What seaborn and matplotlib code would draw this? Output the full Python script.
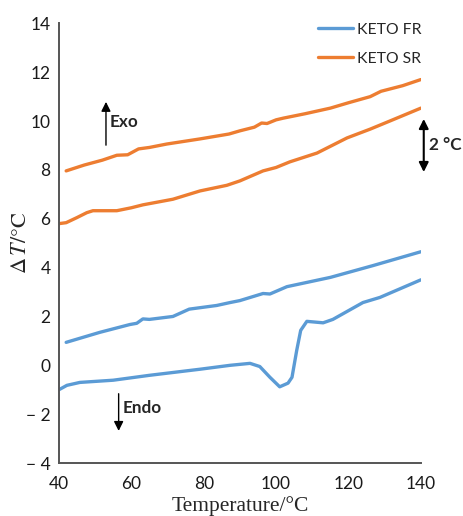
import matplotlib
matplotlib.use("Agg")
import matplotlib.pyplot as plt
import seaborn as sns
import pandas as pd

# ---- data ----
fr1_t = [42, 51.3, 59.6, 61.5, 63.2, 65, 71.5, 76, 83.6, 87.3, 90, 96.4, 98.3, 103, 115, 126.7, 140]
fr1_v = [0.94, 1.35, 1.67, 1.72, 1.9, 1.88, 2.0, 2.3, 2.45, 2.57, 2.65, 2.94, 2.92, 3.22, 3.6, 4.08, 4.65]
fr2_t = [40, 42.2, 45.8, 55, 65, 79, 87.3, 92.8, 95.5, 98.3, 101, 103.3, 104.4, 105.7, 106.8, 108.5, 113, 115.7, 124, 128.7, 140]
fr2_v = [-1.0, -0.82, -0.7, -0.61, -0.41, -0.16, 0.0, 0.08, -0.05, -0.49, -0.88, -0.73, -0.49, 0.61, 1.43, 1.8, 1.74, 1.88, 2.57, 2.78, 3.5]
sr1_t = [42, 47, 52, 56, 59, 62, 65, 69.8, 79, 87, 90, 94, 96, 97.5, 100, 102, 108, 115, 120, 126, 129, 135, 140]
sr1_v = [7.96, 8.2, 8.4, 8.6, 8.62, 8.86, 8.92, 9.06, 9.27, 9.47, 9.6, 9.75, 9.92, 9.9, 10.05, 10.12, 10.3, 10.53, 10.75, 11.0, 11.22, 11.45, 11.7]
sr2_t = [40, 42, 45, 47.7, 49.4, 56, 60, 63.2, 71.5, 79, 86.4, 90, 96.4, 100, 103.8, 111.3, 119.6, 126, 131.4, 140]
sr2_v = [5.8, 5.84, 6.05, 6.25, 6.33, 6.33, 6.45, 6.57, 6.8, 7.14, 7.37, 7.55, 7.96, 8.1, 8.33, 8.69, 9.31, 9.67, 10.0, 10.53]

series_names = ["KETO FR", "KETO SR"]
colors = ["#5B9BD5", "#ED7D31"]
x_ticks = [40, 60, 80, 100, 120, 140]
y_ticks = [-4, -2, 0, 2, 4, 6, 8, 10, 12, 14]
y_tick_labels = ["\u2212 4", "\u2212 2", "0", "2", "4", "6", "8", "10", "12", "14"]

rows = []
for name, run, ts, vs in [("KETO FR", 1, fr1_t, fr1_v), ("KETO FR", 2, fr2_t, fr2_v),
                          ("KETO SR", 1, sr1_t, sr1_v), ("KETO SR", 2, sr2_t, sr2_v)]:
    for t, v in zip(ts, vs):
        rows.append({"T": t, "dT": v, "series": name, "run": run})
df = pd.DataFrame(rows)

sns.set_theme(style="white")
plt.rcParams["font.family"] = ["Lato", "DejaVu Sans"]
plt.rcParams["mathtext.fontset"] = "stix"

fig = plt.figure(figsize=(4.64, 5.16), dpi=100)
ax = fig.add_axes([0.127, 0.1027, 0.780, 0.852])

sns.lineplot(data=df, x="T", y="dT", hue="series", units="run", estimator=None,
             palette=dict(zip(series_names, colors)), hue_order=series_names,
             linewidth=2.4, ax=ax, sort=False)

ax.set_xlim(40, 140)
ax.set_ylim(-4, 14)
ax.set_xticks(x_ticks)
ax.set_yticks(y_ticks)
ax.set_yticklabels(y_tick_labels)
ax.tick_params(axis="both", length=0, labelsize=12.5, colors="#1a1a1a")
ax.tick_params(axis="x", pad=9)
ax.tick_params(axis="y", pad=6)
for s in ["top", "right"]:
    ax.spines[s].set_visible(False)
for s in ["left", "bottom"]:
    ax.spines[s].set_color("#555555")
    ax.spines[s].set_linewidth(1.4)

ax.set_xlabel("Temperature/°C", family="Liberation Serif", fontsize=15.5, labelpad=3)
ax.set_ylabel(r"$\Delta\,T/\mathrm{°C}$", fontsize=16, labelpad=-3)

leg = ax.legend(loc="upper left", bbox_to_anchor=(0.655, 0.983),
                bbox_transform=fig.transFigure, frameon=False,
                fontsize=11.3, handlelength=2.2, labelspacing=0.95, handletextpad=0.3)
for line in leg.get_lines():
    line.set_linewidth(2.4)

# annotations
ax.annotate("", xy=(53.0, 10.9), xytext=(53.0, 8.9),
            arrowprops=dict(arrowstyle="-|>", color="black", lw=1, mutation_scale=14))
ax.text(54.0, 9.95, "Exo", fontsize=12.3, fontweight="bold", va="center", ha="left")
ax.annotate("", xy=(56.5, -2.8), xytext=(56.5, -1.05),
            arrowprops=dict(arrowstyle="-|>", color="black", lw=1, mutation_scale=14))
ax.text(57.5, -1.75, "Endo", fontsize=12.3, fontweight="bold", va="center", ha="left")
ax.annotate("", xy=(140.8, 10.2), xytext=(140.8, 7.8),
            arrowprops=dict(arrowstyle="<|-|>", color="black", lw=1.5, mutation_scale=14),
            annotation_clip=False)
ax.text(142.3, 9.0, "2 °C", fontsize=12.3, fontweight="bold", va="center", ha="left",
        clip_on=False)

fig.savefig("out.png", dpi=100)
